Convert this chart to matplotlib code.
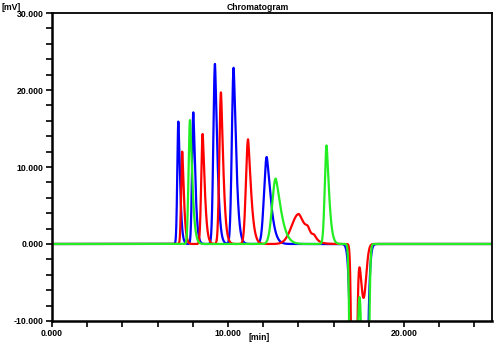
import numpy as np
import matplotlib.pyplot as plt
from matplotlib.ticker import MultipleLocator, FuncFormatter

plt.rcParams['font.family'] = ['Liberation Sans', 'DejaVu Sans']
plt.rcParams['font.weight'] = 'bold'

# peak tables: retention time [min], height [mV],
# left / right width (sigma, min)
blue_rt = [7.18, 8.03, 9.26, 10.32, 12.20, 17.45]
blue_h = [15.9, 17.1, 23.4, 22.9, 11.3, -200.0]
blue_wl = [0.06, 0.07, 0.09, 0.10, 0.15, 0.22]
blue_wr = [0.08, 0.09, 0.11, 0.12, 0.19, 0.22]

red_rt = [7.40, 8.56, 9.60, 11.14, 14.02, 14.55, 14.90, 17.15, 17.70]
red_h = [12.0, 14.3, 19.7, 13.6, 3.9, 0.7, 0.5, -60.0, -7.0]
red_wl = [0.06, 0.08, 0.09, 0.12, 0.40, 0.12, 0.10, 0.09, 0.15]
red_wr = [0.08, 0.10, 0.11, 0.14, 0.35, 0.12, 0.12, 0.11, 0.15]

green_rt = [7.84, 12.71, 15.60, 17.05, 17.85]
green_h = [16.1, 8.5, 12.8, -60.0, -60.0]
green_wl = [0.08, 0.20, 0.10, 0.09, 0.155]
green_wr = [0.11, 0.25, 0.12, 0.18, 0.10]

x_min, x_max = 0.0, 25.0
y_min, y_max = -10.0, 30.0

t = np.linspace(x_min, x_max, 6001)


def trace(rt, h, wl, wr):
    # gaussian front, slightly tailing back side
    y = np.zeros_like(t)
    for c, a, sl, sr in zip(rt, h, wl, wr):
        d = t - c
        front = np.exp(-0.5 * (d / sl) ** 2)
        back = np.exp(-0.5 * np.abs(d / sr) ** 1.4) if a > 0 else np.exp(-0.5 * (d / sr) ** 2)
        y += a * np.where(d < 0, front, back)
    return y


fig = plt.figure(figsize=(5.0, 3.44), dpi=100)
ax = fig.add_axes([0.104, 0.067, 0.88, 0.895])

ax.plot(t, trace(blue_rt, blue_h, blue_wl, blue_wr), color='#0000ff', lw=1.6)
ax.plot(t, trace(red_rt, red_h, red_wl, red_wr), color='#ff0000', lw=1.6)
ax.plot(t, trace(green_rt, green_h, green_wl, green_wr), color='#22ee22', lw=1.6)

ax.set_xlim(x_min, x_max)
ax.set_ylim(y_min, y_max)

ax.xaxis.set_major_locator(MultipleLocator(10))
ax.xaxis.set_minor_locator(MultipleLocator(2))
ax.yaxis.set_major_locator(MultipleLocator(10))
ax.yaxis.set_minor_locator(MultipleLocator(2))
fmt = FuncFormatter(lambda v, p: f'{v:.3f}')
ax.xaxis.set_major_formatter(fmt)
ax.yaxis.set_major_formatter(fmt)

ax.tick_params(which='both', direction='out', length=4.5, width=1.2,
               labelsize=6.3, pad=1.5)
for lab in ax.get_xticklabels() + ax.get_yticklabels():
    lab.set_fontweight('bold')

for side in ['left', 'bottom']:
    ax.spines[side].set_linewidth(1.8)
for side in ['top', 'right']:
    ax.spines[side].set_linewidth(1.3)

fig.text(0.516, 0.992, 'Chromatogram', ha='center', va='top',
         fontsize=6.2, fontweight='bold')
fig.text(0.002, 0.992, '[mV]', ha='left', va='top',
         fontsize=6.2, fontweight='bold')
fig.text(0.518, 0.005, '[min]', ha='center', va='bottom',
         fontsize=6.2, fontweight='bold')

fig.savefig('out.png', dpi=100)
